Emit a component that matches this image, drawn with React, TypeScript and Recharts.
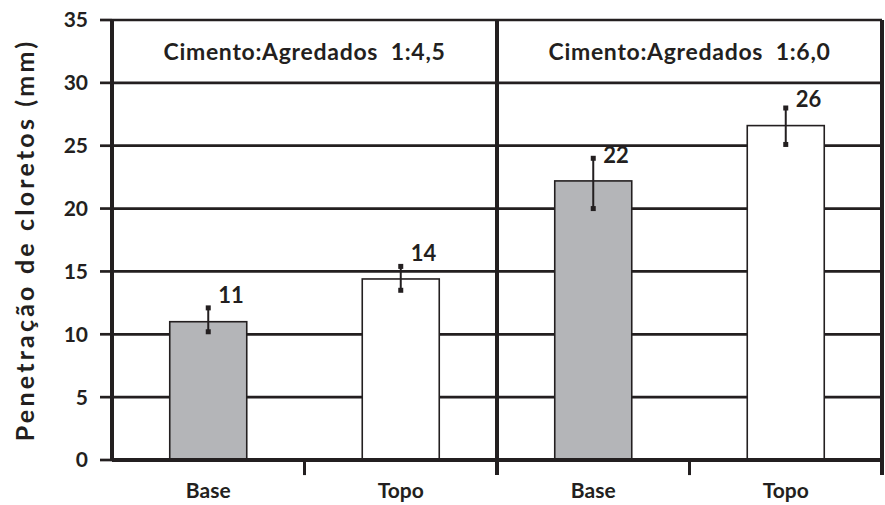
import {
  Bar,
  BarChart,
  CartesianGrid,
  Cell,
  LabelList,
  ReferenceArea,
  ReferenceLine,
  XAxis,
  YAxis,
} from "recharts"

const categories = ["Base", "Topo", "Base", "Topo"]
const penetration = [11.0, 14.4, 22.2, 26.6]
const errLow = [10.2, 13.5, 20.0, 25.1]
const errHigh = [12.1, 15.4, 24.0, 28.0]
const valueLabels = ["11", "14", "22", "26"]
const groupTitles = ["Cimento:Agredados\u00A0 1:4,5", "Cimento:Agredados\u00A0 1:6,0"]
const yTicks = [0, 5, 10, 15, 20, 25, 30, 35]
const bandEdges = [1, 3]

const INK = "#231f20"
const GRAY = "#b4b5b8"
const FONT = "Lato, 'Open Sans', sans-serif"

const data = categories.map((name, i) => ({
  name,
  value: penetration[i],
  low: errLow[i],
  high: errHigh[i],
  label: valueLabels[i],
}))

function BarWithError(props: any) {
  const { x, y, width, height, payload, fill } = props
  const perUnit = height / payload.value
  const bottom = y + height
  const cx = x + width / 2
  const yHigh = bottom - payload.high * perUnit
  const yLow = bottom - payload.low * perUnit
  return (
    <g>
      <rect x={x} y={y} width={width} height={height} fill={fill} stroke={INK} strokeWidth={1.6} />
      <line x1={cx} x2={cx} y1={yHigh} y2={yLow} stroke={INK} strokeWidth={2} />
      <rect x={cx - 2.5} y={yHigh - 2.5} width={5} height={5} fill={INK} />
      <rect x={cx - 2.5} y={yLow - 2.5} width={5} height={5} fill={INK} />
    </g>
  )
}

function ValueLabel(props: any) {
  const { x, y, width, value } = props
  return (
    <text
      x={x + width / 2 + 10}
      y={y - 26}
      dy="0.35em"
      fill={INK}
      fontFamily={FONT}
      fontWeight={700}
      fontSize={22}
    >
      {value}
    </text>
  )
}

function AxisTitle(props: any) {
  const { viewBox } = props
  const x = 34
  const y = viewBox.y + viewBox.height / 2
  return (
    <text
      x={x}
      y={y}
      transform={`rotate(-90 ${x} ${y})`}
      textAnchor="middle"
      fill={INK}
      fontFamily={FONT}
      fontWeight={700}
      fontSize={25}
      letterSpacing={3.2}
    >
      Penetração de cloretos (mm)
    </text>
  )
}

export default function App() {
  const tickFont = { fill: INK, fontSize: 21, fontWeight: 700, fontFamily: FONT }
  return (
    <div style={{ position: "absolute", left: 0, top: 0 }}>
      <BarChart
        width={885}
        height={505}
        data={data}
        margin={{ top: 20, right: 3, left: 0, bottom: 0 }}
        barCategoryGap="30%"
      >
        <CartesianGrid vertical={false} stroke={INK} strokeWidth={2.7} />
        <XAxis
          dataKey="name"
          height={45}
          tickLine={false}
          tickSize={0}
          tickMargin={23}
          axisLine={{ stroke: INK, strokeWidth: 4 }}
          tick={tickFont}
        />
        <XAxis
          xAxisId="grp"
          dataKey="value"
          type="number"
          domain={[0, 4]}
          allowDataOverflow
          hide
        />
        <YAxis
          width={112}
          domain={[0, 35]}
          ticks={yTicks}
          interval={0}
          tickSize={12}
          tickMargin={12}
          axisLine={{ stroke: INK, strokeWidth: 4 }}
          tickLine={{ stroke: INK, strokeWidth: 2.7 }}
          tick={tickFont}
          label={{ content: AxisTitle }}
        />
        {groupTitles.map((t, i) => (
          <ReferenceArea
            key={t}
            xAxisId="grp"
            x1={i * 2}
            x2={i * 2 + 2}
            y1={30}
            y2={35}
            fill="none"
            stroke="none"
            label={{
              value: t,
              position: "center",
              fill: INK,
              fontSize: 23,
              fontWeight: 700,
              fontFamily: FONT,
              letterSpacing: 0.7,
            }}
          />
        ))}
        <ReferenceLine
          xAxisId="grp"
          segment={[{ x: 2, y: 35 }, { x: 2, y: -1.2 }]}
          ifOverflow="visible"
          stroke={INK}
          strokeWidth={4}
        />
        <ReferenceLine
          xAxisId="grp"
          segment={[{ x: 4, y: 35 }, { x: 4, y: -1.2 }]}
          ifOverflow="visible"
          stroke={INK}
          strokeWidth={4}
        />
        {bandEdges.map((e) => (
          <ReferenceLine
            key={e}
            xAxisId="grp"
            segment={[{ x: e, y: 0 }, { x: e, y: -1.2 }]}
            ifOverflow="visible"
            stroke={INK}
            strokeWidth={3}
          />
        ))}
        <Bar dataKey="value" shape={BarWithError} isAnimationActive={false}>
          {data.map((d, i) => (
            <Cell key={i} fill={d.name === "Base" ? GRAY : "#ffffff"} />
          ))}
          <LabelList dataKey="label" content={ValueLabel} />
        </Bar>
      </BarChart>
    </div>
  )
}
